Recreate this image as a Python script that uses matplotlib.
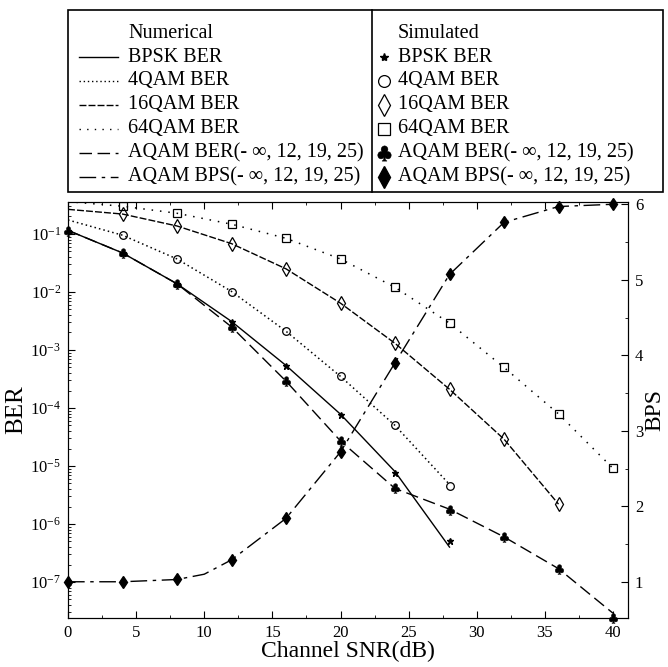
import numpy as np
import matplotlib
matplotlib.use("Agg")
import matplotlib.pyplot as plt
from matplotlib.lines import Line2D
from matplotlib.patches import Rectangle
from matplotlib.ticker import MultipleLocator, LogLocator

plt.rcParams["font.family"] = ["Liberation Serif", "DejaVu Serif"]
plt.rcParams["mathtext.fontset"] = "stix"

# ---- data ---------------------------------------------------------------
snr_bpsk = [0, 4, 8, 12, 16, 20, 24, 28]
bpsk_num = [0.115, 0.047, 0.0138, 3.1e-3, 5.4e-4, 7.8e-5, 8.0e-6, 4.0e-7]
bpsk_sim = [0.113, 0.047, 0.0135, 3.0e-3, 5.2e-4, 7.5e-5, 7.6e-6, 5.1e-7]

snr_4qam_num = [0, 4, 8, 12, 16, 20, 24, 28]
qam4_num = [0.174, 0.095, 0.037, 0.0102, 2.1e-3, 3.5e-4, 5.0e-5, 4.8e-6]
snr_4qam_sim = [4, 8, 12, 16, 20, 24, 28]
qam4_sim = [0.096, 0.037, 0.0101, 2.1e-3, 3.5e-4, 5.0e-5, 4.5e-6]

snr_16qam_num = [0, 4, 8, 12, 16, 20, 24, 28, 32, 36]
qam16_num = [0.265, 0.22, 0.137, 0.068, 0.025, 6.4e-3, 1.3e-3, 2.1e-4, 2.9e-5, 2.2e-6]
snr_16qam_sim = [4, 8, 12, 16, 20, 24, 28, 32, 36]
qam16_sim = [0.22, 0.137, 0.068, 0.025, 6.4e-3, 1.3e-3, 2.1e-4, 2.9e-5, 2.2e-6]

snr_64qam_num = [0, 4, 8, 12, 16, 20, 24, 28, 32, 36, 40]
qam64_num = [0.36, 0.30, 0.227, 0.147, 0.084, 0.037, 0.012, 2.9e-3, 5.0e-4, 7.9e-5, 9.1e-6]
snr_64qam_sim = [4, 8, 12, 16, 20, 24, 28, 32, 36, 40]
qam64_sim = [0.30, 0.227, 0.147, 0.084, 0.037, 0.012, 2.9e-3, 5.0e-4, 7.9e-5, 9.1e-6]

snr_aqam = [0, 4, 8, 12, 16, 20, 24, 28, 32, 36, 40]
aqam_ber_num = [0.115, 0.047, 0.0138, 2.5e-3, 2.9e-4, 2.7e-5, 4.1e-6, 1.8e-6, 6.0e-7, 1.7e-7, 2.9e-8]
aqam_ber_sim = [0.113, 0.047, 0.0135, 2.46e-3, 2.9e-4, 2.7e-5, 4.1e-6, 1.77e-6, 6.0e-7, 1.66e-7, 2.4e-8]

snr_bps_num = [0, 4, 8, 10, 12, 16, 20, 24, 28, 32, 36, 40]
aqam_bps_num = [1.0, 1.0, 1.03, 1.10, 1.29, 1.84, 2.72, 3.90, 5.07, 5.76, 5.97, 6.0]
aqam_bps_sim = [1.0, 1.0, 1.03, 1.29, 1.84, 2.72, 3.90, 5.07, 5.76, 5.97, 6.0]

labels = ["BPSK BER", "4QAM BER", "16QAM BER", "64QAM BER",
          "AQAM BER(- \u221e, 12, 19, 25)", "AQAM BPS(- \u221e, 12, 19, 25)"]

# line styles and markers, in legend order
LS = ["-", (0, (1, 2)), (0, (5, 1.5)), (0, (1, 4.5)), (0, (9, 4)), (0, (12, 4, 2.5, 4))]
MK = [dict(marker="*", ms=5, mfc="k", mec="k"),
      dict(marker="o", ms=5.5, mfc="none", mec="k", mew=0.9),
      dict(marker="d", ms=7, mfc="none", mec="k", mew=0.9),
      dict(marker="s", ms=5.5, mfc="none", mec="k", mew=0.9),
      dict(marker=r"$\clubsuit$", ms=7, mfc="k", mec="k", mew=0.3),
      dict(marker="d", ms=6.5, mfc="k", mec="k")]
LEG_MS = [6, 8.5, 11, 8.5, 11, 11]

fig = plt.figure(figsize=(6.68, 6.67), dpi=100)
ax = fig.add_axes([68 / 668, 1 - 618 / 667, 560 / 668, 416 / 667])
ax2 = ax.twinx()

lw = 1.0
ax.plot(snr_bpsk, bpsk_num, color="k", lw=lw, ls=LS[0])
ax.plot(snr_4qam_num, qam4_num, color="k", lw=1.1, ls=LS[1])
ax.plot(snr_16qam_num, qam16_num, color="k", lw=lw, ls=LS[2])
ax.plot(snr_64qam_num, qam64_num, color="k", lw=1.1, ls=LS[3])
ax.plot(snr_aqam, aqam_ber_num, color="k", lw=lw, ls=LS[4])
ax2.plot(snr_bps_num, aqam_bps_num, color="k", lw=lw, ls=LS[5], clip_on=False)

ax.plot(snr_bpsk, bpsk_sim, ls="none", **MK[0])
ax.plot(snr_4qam_sim, qam4_sim, ls="none", **MK[1])
ax.plot(snr_16qam_sim, qam16_sim, ls="none", **MK[2])
ax.plot(snr_64qam_sim, qam64_sim, ls="none", **MK[3])
ax.plot(snr_aqam, aqam_ber_sim, ls="none", clip_on=False, **MK[4])
ax2.plot(snr_aqam, aqam_bps_sim, ls="none", clip_on=False, **MK[5])

ax.set_yscale("log")
ax.set_xlim(0, 41.1)
ax.set_ylim(10 ** -7.62, 10 ** -0.45)
ax2.set_ylim(0.52, 6.03)
ax.xaxis.set_major_locator(MultipleLocator(5))
ax.xaxis.set_minor_locator(MultipleLocator(2.5))
ax.yaxis.set_major_locator(LogLocator(base=10, numticks=20))
ax.yaxis.set_minor_locator(LogLocator(base=10, subs=np.arange(2, 10), numticks=20))
ax2.yaxis.set_major_locator(MultipleLocator(1))
ax2.yaxis.set_minor_locator(MultipleLocator(0.5))

ax.tick_params(which="both", direction="in", top=True, labelsize=12, pad=5)
ax.tick_params(which="major", length=5)
ax.tick_params(which="minor", length=2.5)
ax2.tick_params(which="both", direction="in", labelsize=12, pad=5)
ax2.tick_params(which="major", length=5)
ax2.tick_params(which="minor", length=2.5)

ax.set_xlabel("Channel SNR(dB)", fontsize=17, labelpad=0)
ax.set_ylabel("BER", fontsize=18, labelpad=2)
ax2.set_ylabel("BPS", fontsize=17, labelpad=1)

# ---- boxed two-column legend above the axes -----------------------------
lg = fig.add_axes([0, 0, 1, 1])
lg.set_xlim(0, 668)
lg.set_ylim(667, 0)
lg.axis("off")
lg.add_patch(Rectangle((68, 10), 595, 182, fill=False, lw=1.2, ec="k"))
lg.plot([372, 372], [10, 192], color="k", lw=1.2)
rows = [33, 57, 81, 105, 129, 153, 177]
fs = 14.5
lg.text(128, rows[0], "Numerical", fontsize=fs, va="center")
lg.text(398, rows[0], "Simulated", fontsize=fs, va="center")
for i, lab in enumerate(labels):
    y = rows[i + 1]
    lg.add_line(Line2D([79, 118], [y, y], color="k", lw=1.0, ls=LS[i]))
    lg.text(128, y, lab, fontsize=fs, va="center")
    lg.plot([384], [y], ls="none", **{**MK[i], "ms": LEG_MS[i]})
    lg.text(398, y, lab, fontsize=fs, va="center")

fig.savefig("out.png", dpi=100)
